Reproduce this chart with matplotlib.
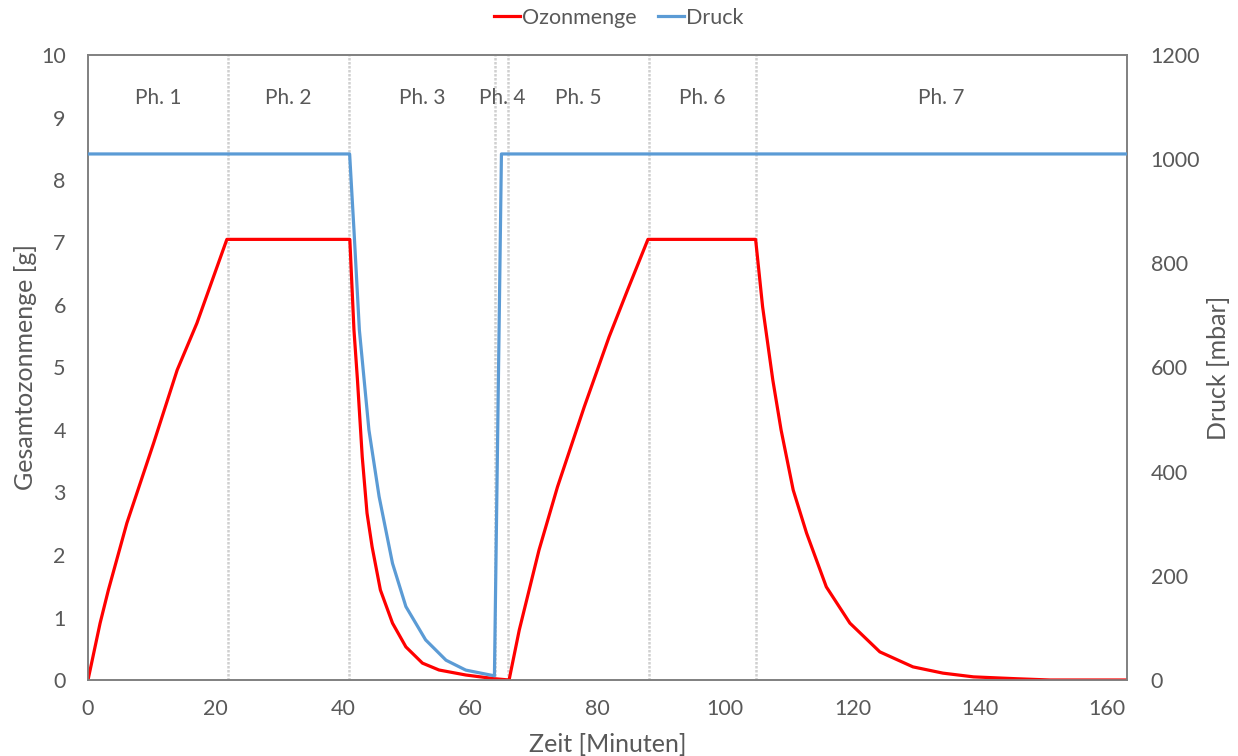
import matplotlib
matplotlib.use("Agg")
import matplotlib.pyplot as plt
from matplotlib.lines import Line2D

plt.rcParams['font.family'] = ['Lato', 'DejaVu Sans']

# Gesamtozonmenge [g] ueber der Zeit [min]
ozon_t = [0, 1.9, 3.2, 6.1, 10.3, 14.0, 17.1, 21.8, 41.1, 41.75, 42.3, 43.05,
          43.8, 44.6, 45.9, 47.8, 49.9, 52.5, 55.1, 59.3, 63.9, 66.1, 67.7,
          70.8, 73.7, 77.9, 81.8, 84.7, 87.9, 104.8, 105.9, 107.5, 108.8,
          110.7, 112.8, 115.9, 119.6, 124.3, 129.5, 134.2, 139.0, 145.8,
          151.0, 163.0]
ozon_g = [0, 0.91, 1.44, 2.51, 3.79, 4.96, 5.71, 7.05, 7.05, 5.6, 4.8, 3.57,
          2.67, 2.13, 1.44, 0.91, 0.53, 0.27, 0.16, 0.08, 0.02, 0, 0.8,
          2.08, 3.09, 4.37, 5.49, 6.24, 7.05, 7.05, 5.97, 4.8, 4.0,
          3.04, 2.35, 1.49, 0.91, 0.45, 0.21, 0.11, 0.05, 0.02,
          0.0, 0.0]

# Druck [mbar]
druck_t = [0, 41.07, 41.75, 42.6, 44.1, 45.7, 47.8, 49.9, 53.0, 56.2, 59.3,
           63.8, 64.9, 163.0]
druck_mbar = [1010, 1010, 864, 672, 480, 352, 224, 141, 77, 38, 19, 8,
              1010, 1010]

# Phasengrenzen und Beschriftungen
phase_grenzen = [22.0, 41.0, 63.9, 66.0, 88.0, 104.8]
phase_namen = ["Ph. 1", "Ph. 2", "Ph. 3", "Ph. 4", "Ph. 5", "Ph. 6", "Ph. 7"]

x_max = 163.1
grau = '#595959'
rot = '#FF0000'
blau = '#5B9BD5'

fig = plt.figure(figsize=(12.38, 7.56), dpi=100)
ax = fig.add_axes([88 / 1238, 1 - 680 / 756, (1127 - 88) / 1238, (680 - 55) / 756])
ax2 = ax.twinx()

for g in phase_grenzen:
    ax.axvline(g, color='#d0d0d0', lw=1.8, ls=(0, (1, 0.6)), zorder=1)

kanten = [0] + phase_grenzen + [x_max]
for i, name in enumerate(phase_namen):
    mitte = (kanten[i] + kanten[i + 1]) / 2
    ax.text(mitte, 9.31, name, ha='center', va='center', fontsize=15, color=grau)

ax.plot(ozon_t, ozon_g, color=rot, lw=2.3, zorder=3)
ax2.plot(druck_t, druck_mbar, color=blau, lw=2.3, zorder=3)

ax.set_xlim(0, x_max)
ax.set_ylim(0, 10)
ax2.set_ylim(0, 1200)
ax.set_xticks(range(0, 161, 20))
ax.set_yticks(range(0, 11))
ax2.set_yticks(range(0, 1201, 200))

ax.tick_params(axis='both', length=0, labelsize=15.5, colors=grau)
ax.tick_params(axis='y', pad=16)
ax.tick_params(axis='x', pad=14)
ax2.tick_params(axis='y', length=0, labelsize=15.5, colors=grau, pad=17)

for a in (ax, ax2):
    for s in a.spines.values():
        s.set_color('#808080')
        s.set_linewidth(1.2)

ax.set_ylabel("Gesamtozonmenge [g]", fontsize=18, color=grau)
ax2.set_ylabel("Druck [mbar]", fontsize=18, color=grau)
ax.set_xlabel("Zeit [Minuten]", fontsize=18, color=grau)
ax.yaxis.label.set_va('center')
ax2.yaxis.label.set_va('center')
ax.yaxis.set_label_coords(-0.0606, 0.5)
ax2.yaxis.set_label_coords(1.0876, 0.5)
ax.xaxis.label.set_va('center')
ax.xaxis.set_label_coords(0.5, -0.104)

handles = [Line2D([], [], color=rot, lw=2.3), Line2D([], [], color=blau, lw=2.3)]
fig.legend(handles, ["Ozonmenge", "Druck"], loc='center', bbox_to_anchor=(0.5, 1 - 18 / 756),
           ncol=2, frameon=False, fontsize=15.5, handlelength=1.2, handletextpad=0.1,
           columnspacing=1.0, labelcolor=grau)

fig.savefig("out.png", dpi=100)
